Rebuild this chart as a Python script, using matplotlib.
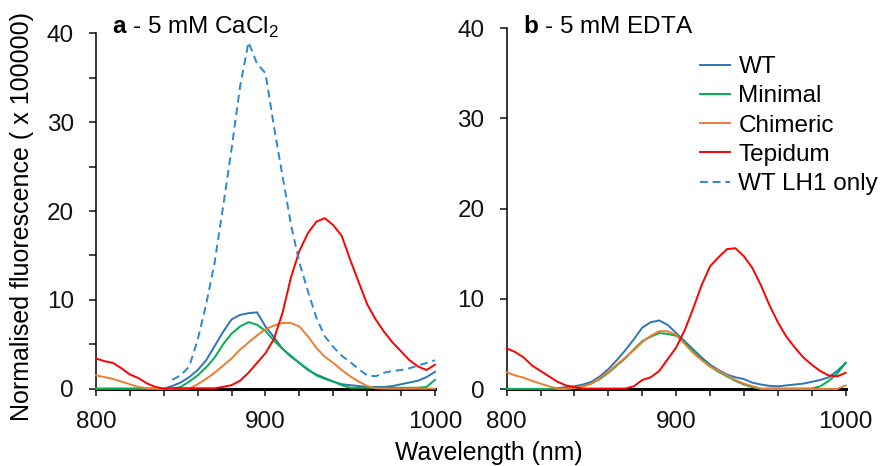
import numpy as np
import matplotlib
matplotlib.use("Agg")
import matplotlib.pyplot as plt
from matplotlib.ticker import MultipleLocator

plt.rcParams['font.family'] = ['Liberation Sans', 'DejaVu Sans']
plt.rcParams['mathtext.fontset'] = 'custom'
plt.rcParams['mathtext.rm'] = 'Liberation Sans'
plt.rcParams['mathtext.bf'] = 'Liberation Sans:bold'

wavelength = list(range(800, 1001, 5))
nan = float('nan')

# Panel a - 5 mM CaCl2
a_wt = [0]*8 + [0, 0.3, 0.7, 1.3, 2.1, 3.2, 4.8, 6.4, 7.8, 8.3, 8.5, 8.6, 7.0, 5.8, 4.5, 3.6, 2.9, 2.1, 1.6, 1.2,
        0.8, 0.5, 0.4, 0.3, 0.2, 0.2, 0.2, 0.3, 0.5, 0.7, 0.9, 1.3, 1.9]
a_minimal = [0]*10 + [0.2, 0.8, 1.5, 2.4, 3.5, 5.0, 6.2, 7.0, 7.5, 7.2, 6.5, 5.4, 4.5, 3.7, 2.9, 2.2, 1.5, 1.1,
             0.8, 0.4, 0.1, 0.1, 0.1, 0.1, 0.1, 0.1, 0.1, 0.1, 0.1, 0.2, 1.0]
a_chimeric = [1.5, 1.3, 1.1, 0.8, 0.5, 0.2, 0.05, 0, 0, 0, 0, 0, 0.5, 1.1, 1.8, 2.6, 3.4, 4.4, 5.2, 6.0, 6.7,
              7.1, 7.4, 7.4, 7.0, 5.9, 4.6, 3.6, 2.9, 2.1, 1.4, 0.8, 0.3, 0.05, 0, 0, 0, 0, 0, 0, 0]
a_tepidum = [3.4, 3.1, 2.9, 2.3, 1.6, 1.2, 0.6, 0.2, 0, 0.05, 0.05, 0.05, 0.05, 0.05, 0.05, 0.2, 0.4, 0.9, 1.8,
             2.9, 4.0, 5.6, 8.5, 12.5, 15.5, 17.5, 18.8, 19.2, 18.4, 17.2, 14.5, 12.0, 9.5, 7.8, 6.4, 5.2, 4.2,
             3.2, 2.5, 2.1, 2.7]
a_lh1 = [nan]*9 + [1.0, 1.5, 2.5, 5.5, 9.5, 14.2, 20.5, 27, 34, 39, 36.6, 35.5, 29.5, 24, 18.5, 14.2, 11, 8,
                   5.9, 4.7, 3.7, 3.0, 2.2, 1.5, 1.4, 1.8, 2.0, 2.1, 2.3, 2.6, 2.9, 3.2]

# Panel b - 5 mM EDTA
b_wt = [0, 0, 0, 0, 0, 0, 0.1, 0.2, 0.3, 0.5, 0.8, 1.4, 2.2, 3.2, 4.3, 5.5, 6.8, 7.4, 7.6, 7.1, 6.2, 5.3, 4.4,
        3.5, 2.7, 2.1, 1.6, 1.3, 1.1, 0.7, 0.5, 0.35, 0.3, 0.4, 0.5, 0.6, 0.8, 1.0, 1.3, 2.0, 2.9]
b_minimal = [0]*8 + [0.2, 0.3, 0.6, 1.1, 1.8, 2.6, 3.4, 4.4, 5.3, 5.8, 6.2, 6.1, 5.9, 5.2, 4.1, 3.3, 2.5, 1.9,
                     1.4, 0.9, 0.5, 0.2, 0, 0.05, 0.05, 0.05, 0.05, 0.05, 0.05, 0.3, 0.9, 1.7, 2.9]
b_chimeric = [1.85, 1.5, 1.25, 0.9, 0.6, 0.3, 0.05, 0, 0.1, 0.3, 0.6, 1.2, 1.9, 2.7, 3.5, 4.3, 5.2, 5.9, 6.4,
              6.4, 6.0, 5.0, 4.0, 3.2, 2.5, 2.0, 1.5, 1.0, 0.6, 0.3, 0.05, 0, 0, 0, 0, 0, 0, 0, 0, 0, 0.4]
b_tepidum = [4.5, 4.1, 3.5, 2.6, 2.0, 1.4, 0.8, 0.4, 0.2, 0.05, 0.05, 0.05, 0.05, 0.05, 0.05, 0.3, 1.0, 1.3,
             2.0, 3.3, 4.6, 6.5, 8.9, 11.5, 13.6, 14.6, 15.5, 15.6, 14.7, 13.4, 11.5, 9.3, 7.4, 5.8, 4.6, 3.5,
             2.7, 2.0, 1.5, 1.4, 1.8]

labels = ["WT", "Minimal", "Chimeric", "Tepidum", "WT LH1 only"]
colors = ["#2E75B6", "#00B050", "#ED7D31", "#FF0000", "#2E86D0"]

fig = plt.figure(figsize=(8.83, 4.66), dpi=100)
axa = fig.add_axes([0.1087, 0.1659, 0.3839, 0.7626])
axb = fig.add_axes([0.5738, 0.1652, 0.3839, 0.7747])

def style(ax, minor):
    ax.set_xlim(800, 1000)
    ax.set_ylim(0, 40)
    for s in ["top", "right"]:
        ax.spines[s].set_visible(False)
    ax.spines["left"].set_linewidth(1.1)
    ax.spines["bottom"].set_linewidth(2.2)
    ax.set_xticks([800, 900, 1000])
    ax.xaxis.set_minor_locator(MultipleLocator(20))
    ax.set_yticks([0, 10, 20, 30, 40])
    if minor:
        ax.yaxis.set_minor_locator(MultipleLocator(5))
    ax.tick_params(axis='both', which='both', direction='out', length=5, width=1.1, labelsize=17.5,
                   colors='#111111')
    ax.tick_params(axis='x', which='major', pad=11)
    ax.tick_params(axis='y', which='major', pad=11)

lw = 1.4
dash = (0, (4, 2.5))
for ax, series, lh1 in [(axa, [a_wt, a_minimal, a_chimeric, a_tepidum], a_lh1),
                        (axb, [b_wt, b_minimal, b_chimeric, b_tepidum], None)]:
    for vals, lab, col in zip(series, labels[:4], colors[:4]):
        ax.plot(wavelength, vals, color=col, lw=lw, label=lab, zorder=3, clip_on=False)
    if lh1 is not None:
        ax.plot(wavelength, lh1, color=colors[4], lw=lw, ls=dash, label=labels[4], zorder=3)
    else:
        ax.plot([], [], color=colors[4], lw=lw, ls=dash, label=labels[4])

style(axa, True)
style(axb, False)

axa.text(809.4, 40.0, r"$\mathbf{a}$ - 5 mM CaCl$_2$", fontsize=17.5, va='baseline', ha='left')
axb.text(809.4, 39.45, r"$\mathbf{b}$ - 5 mM EDTA", fontsize=17.5, va='baseline', ha='left')

leg = axb.legend(loc='upper left', bbox_to_anchor=(700/883, 1-56/466), bbox_transform=fig.transFigure,
                 frameon=False, fontsize=17.5, handlelength=1.25, handletextpad=0.33,
                 labelspacing=0.3, borderaxespad=0, borderpad=0)

fig.text(489/883, 6/466, "Wavelength (nm)", fontsize=17.8, ha='center', va='baseline')
fig.text(22.5/883, 1-216.5/466, "Normalised fluorescence ( x 100000)", fontsize=18, rotation=90,
         ha='center', va='center')

fig.savefig("out.png", dpi=100)
